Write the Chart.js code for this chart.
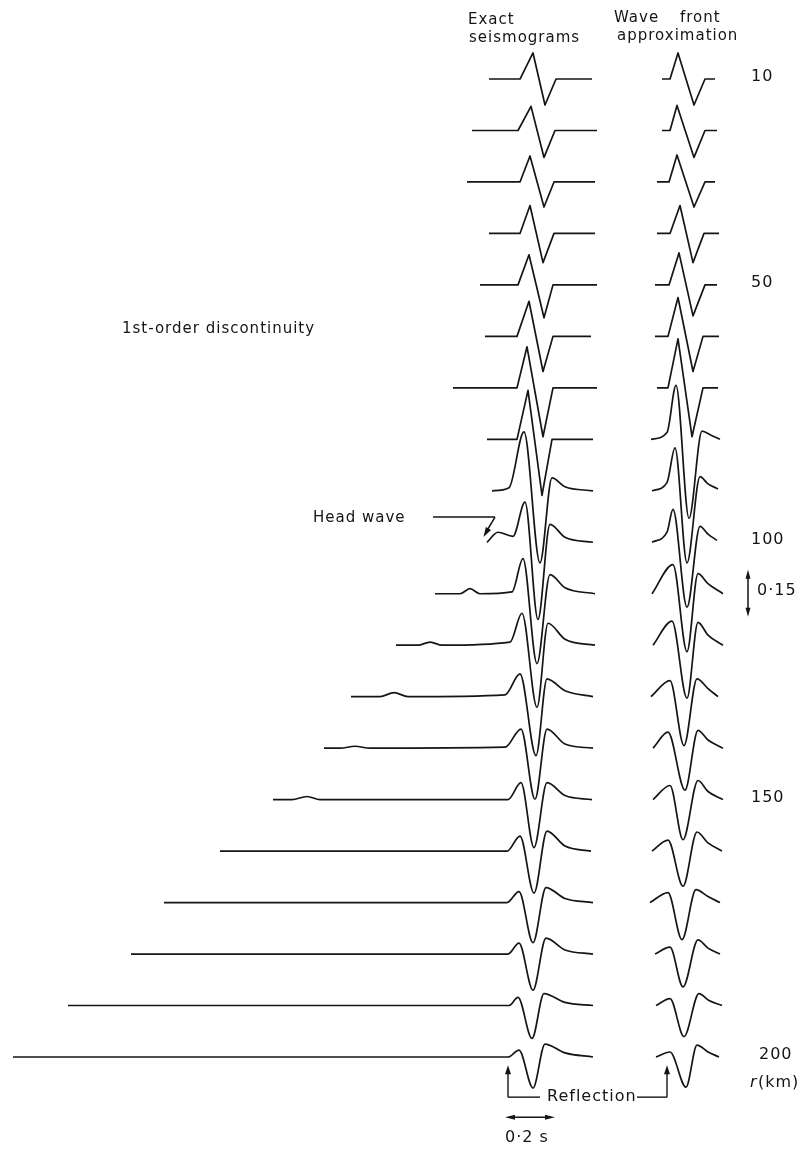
<!DOCTYPE html>
<html>
<head>
<meta charset="utf-8">
<title>Exact seismograms and wave front approximation</title>
<script src="https://cdn.jsdelivr.net/npm/chart.js@4.4.1/dist/chart.umd.min.js"></script>
<style>
  html, body { margin: 0; padding: 0; background: #fff; }
  #wrap { position: relative; width: 802px; height: 1149px; }
</style>
</head>
<body>
<div id="wrap"><canvas id="sections" width="802" height="1149"></canvas></div>
<script>
// one trace per epicentral distance (km)
const distances = [10, 20, 30, 40, 50, 60, 70, 80, 90, 100, 110, 120, 130, 140, 150, 160, 170, 180, 190, 200];
const distanceTicks = [10, 50, 100, 150, 200];

// exact seismograms - time in s (t = 0 at the reflection onset), amplitude in the units of the 0.15 bar
const exStartT  = [-0.076, -0.144, -0.164, -0.076, -0.112, -0.092, -0.220, -0.084, -0.064, -0.084, -0.292, -0.448, -0.628, -0.736, -0.940, -1.152, -1.376, -1.508, -1.760, -1.980];
const exOnsetT  = [0.048, 0.040, 0.048, 0.048, 0.040, 0.036, 0.036, 0.036, 0.004, 0.020, 0.016, 0.008, -0.012, -0.012, 0.000, -0.004, -0.004, 0.000, 0.004, 0.000];
const exOnsetA  = [0, 0, 0, 0, 0, 0, 0, 0, 0.010, 0.019, 0.006, 0.010, 0.006, 0.003, 0, 0, 0, 0, 0, 0];
const exPeakT   = [0.100, 0.092, 0.088, 0.088, 0.084, 0.084, 0.076, 0.080, 0.064, 0.068, 0.060, 0.056, 0.048, 0.052, 0.052, 0.048, 0.044, 0.044, 0.040, 0.044];
const exPeakA   = [0.083, 0.077, 0.083, 0.089, 0.096, 0.112, 0.131, 0.156, 0.188, 0.128, 0.112, 0.102, 0.073, 0.061, 0.054, 0.048, 0.035, 0.035, 0.026, 0.022];
const exTroughT = [0.148, 0.144, 0.144, 0.140, 0.144, 0.140, 0.140, 0.136, 0.128, 0.120, 0.116, 0.116, 0.112, 0.108, 0.104, 0.104, 0.100, 0.100, 0.096, 0.100];
const exTroughA = [-0.083, -0.086, -0.080, -0.093, -0.105, -0.112, -0.156, -0.179, -0.230, -0.246, -0.223, -0.198, -0.188, -0.163, -0.153, -0.134, -0.128, -0.115, -0.105, -0.099];
const exBumpT   = [0.192, 0.188, 0.184, 0.184, 0.180, 0.180, 0.180, 0.176, 0.176, 0.168, 0.168, 0.160, 0.156, 0.156, 0.156, 0.156, 0.152, 0.152, 0.144, 0.148];
const exBumpA   = [0, 0, 0, 0, 0, 0, 0, 0, 0.041, 0.057, 0.061, 0.070, 0.057, 0.061, 0.054, 0.064, 0.048, 0.051, 0.038, 0.041];
const exTailT   = [null, null, null, null, null, null, null, null, 0.228, 0.228, 0.228, 0.228, 0.228, 0.228, 0.228, 0.228, 0.228, 0.228, 0.228, 0.228];
const exTailA   = [null, null, null, null, null, null, null, null, 0.013, 0.016, 0.019, 0.019, 0.019, 0.013, 0.013, 0.016, 0.013, 0.013, 0.010, 0.013];
const exEndT    = [0.336, 0.356, 0.348, 0.348, 0.356, 0.332, 0.356, 0.340, 0.340, 0.340, 0.348, 0.348, 0.340, 0.340, 0.336, 0.332, 0.340, 0.340, 0.340, 0.340];

// head wave arrivals ahead of the reflection (100-150 km)
const exHeadFromT = [null, null, null, null, null, null, null, null, null, null, -0.192, -0.360, -0.512, -0.672, -0.864, null, null, null, null, null];
const exHeadT     = [null, null, null, null, null, null, null, null, null, -0.040, -0.152, -0.312, -0.456, -0.612, -0.804, null, null, null, null, null];
const exHeadA     = [null, null, null, null, null, null, null, null, null, 0.032, 0.016, 0.010, 0.013, 0.006, 0.010, null, null, null, null, null];
const exHeadToT   = [null, null, null, null, null, null, null, null, null, null, -0.112, -0.264, -0.400, -0.552, -0.752, null, null, null, null, null];

// wave front approximation, same units
const wfStartT  = [-0.020, -0.020, -0.040, -0.040, -0.048, -0.048, -0.040, -0.064, -0.060, -0.060, -0.060, -0.056, -0.064, -0.056, -0.056, -0.060, -0.068, -0.048, -0.044, -0.044];
const wfKneeT   = [0.012, 0.012, 0.008, 0.012, 0.008, 0.004, 0.004, 0.000, 0.000, 0.000, null, null, null, null, null, null, null, null, null, null];
const wfKneeA   = [0, 0, 0, 0, 0, 0, 0, 0.022, 0.026, 0.032, null, null, null, null, null, null, null, null, null, null];
const wfPeakT   = [0.044, 0.040, 0.040, 0.052, 0.048, 0.044, 0.044, 0.036, 0.032, 0.024, 0.024, 0.020, 0.012, 0.004, 0.012, 0.004, 0.004, 0.012, 0.012, 0.012];
const wfPeakA   = [0.083, 0.080, 0.086, 0.089, 0.102, 0.124, 0.156, 0.172, 0.137, 0.105, 0.093, 0.077, 0.051, 0.051, 0.045, 0.035, 0.032, 0.022, 0.022, 0.016];
const wfTroughT = [0.108, 0.108, 0.108, 0.104, 0.104, 0.104, 0.100, 0.088, 0.080, 0.080, 0.080, 0.080, 0.068, 0.072, 0.064, 0.064, 0.060, 0.064, 0.068, 0.076];
const wfTroughA = [-0.083, -0.086, -0.080, -0.093, -0.099, -0.112, -0.156, -0.252, -0.230, -0.207, -0.185, -0.169, -0.156, -0.134, -0.128, -0.112, -0.118, -0.105, -0.099, -0.096];
const wfBumpT   = [0.152, 0.152, 0.152, 0.148, 0.152, 0.144, 0.144, 0.140, 0.132, 0.132, 0.124, 0.124, 0.120, 0.124, 0.124, 0.120, 0.116, 0.124, 0.128, 0.120];
const wfBumpA   = [0, 0, 0, 0, 0, 0, 0, 0.026, 0.045, 0.051, 0.064, 0.073, 0.057, 0.057, 0.061, 0.061, 0.041, 0.045, 0.038, 0.038];
const wfTailT   = [null, null, null, null, null, null, null, 0.176, 0.164, 0.164, 0.164, 0.164, 0.164, 0.164, 0.164, 0.164, 0.164, 0.164, 0.168, 0.164];
const wfTailA   = [null, null, null, null, null, null, null, 0.013, 0.022, 0.026, 0.032, 0.032, 0.026, 0.026, 0.026, 0.026, 0.019, 0.019, 0.016, 0.016];
const wfEndT    = [0.192, 0.200, 0.192, 0.208, 0.200, 0.208, 0.204, 0.212, 0.204, 0.200, 0.224, 0.224, 0.204, 0.224, 0.224, 0.220, 0.212, 0.212, 0.220, 0.208];
const wfEndA    = [0, 0, 0, 0, 0, 0, 0, 0, 0.006, 0.006, 0, 0, 0, 0, 0, 0, 0, 0, 0, 0];

// scale bars
const timeBar = 0.2;   // s
const ampBar = 0.15;

const INK = '#151515';
const AMP_KM = 60.9;   // km of trace offset per amplitude unit

function pt(t, a, r) {
    return { x: t, y: r - a * AMP_KM };
}

function exactTrace(i) {
    const r = distances[i];
    const pts = [pt(exStartT[i], 0, r)];
    if (exHeadFromT[i] !== null) pts.push(pt(exHeadFromT[i], 0, r));
    if (exHeadT[i] !== null) pts.push(pt(exHeadT[i], exHeadA[i], r));
    if (exHeadToT[i] !== null) pts.push(pt(exHeadToT[i], 0, r));
    pts.push(pt(exOnsetT[i], exOnsetA[i], r));
    pts.push(pt(exPeakT[i], exPeakA[i], r));
    pts.push(pt(exTroughT[i], exTroughA[i], r));
    pts.push(pt(exBumpT[i], exBumpA[i], r));
    if (exTailT[i] !== null) pts.push(pt(exTailT[i], exTailA[i], r));
    pts.push(pt(exEndT[i], 0, r));
    return pts;
}

function frontTrace(i) {
    const r = distances[i];
    const pts = [pt(wfStartT[i], 0, r)];
    if (wfKneeT[i] !== null) pts.push(pt(wfKneeT[i], wfKneeA[i], r));
    pts.push(pt(wfPeakT[i], wfPeakA[i], r));
    pts.push(pt(wfTroughT[i], wfTroughA[i], r));
    pts.push(pt(wfBumpT[i], wfBumpA[i], r));
    if (wfTailT[i] !== null) pts.push(pt(wfTailT[i], wfTailA[i], r));
    pts.push(pt(wfEndT[i], wfEndA[i], r));
    return pts;
}

// short pulses without a rebound are drawn with straight strokes, the rest smoothed
function traceStyle(smooth) {
    return {
        borderColor: INK,
        borderWidth: 1.7,
        pointRadius: 0,
        fill: false,
        borderJoinStyle: 'round',
        tension: 0,
        cubicInterpolationMode: smooth ? 'monotone' : 'default'
    };
}

const datasets = [];
distances.forEach((r, i) => {
    datasets.push(Object.assign({ label: 'exact ' + r, data: exactTrace(i), xAxisID: 'x' }, traceStyle(exBumpA[i] > 0)));
    datasets.push(Object.assign({ label: 'front ' + r, data: frontTrace(i), xAxisID: 'xw' }, traceStyle(wfBumpA[i] > 0)));
});

/*=========================================
ARROWS AND LETTERING
=========================================*/
function arrowHead(ctx, x, y, ang, len, half) {
    ctx.beginPath();
    ctx.moveTo(x, y);
    ctx.lineTo(x - len * Math.cos(ang) + half * Math.sin(ang), y - len * Math.sin(ang) - half * Math.cos(ang));
    ctx.lineTo(x - len * Math.cos(ang) - half * Math.sin(ang), y - len * Math.sin(ang) + half * Math.cos(ang));
    ctx.closePath();
    ctx.fill();
}

function line(ctx, x1, y1, x2, y2) {
    ctx.beginPath();
    ctx.moveTo(x1, y1);
    ctx.lineTo(x2, y2);
    ctx.stroke();
}

const notes = {
    id: 'notes',
    afterDatasetsDraw(chart) {
        const { ctx, scales } = chart;
        const X = v => scales.x.getPixelForValue(v);
        const W = v => scales.xw.getPixelForValue(v);
        const Y = v => scales.y.getPixelForValue(v);

        ctx.save();
        ctx.fillStyle = INK;
        ctx.strokeStyle = INK;
        ctx.lineWidth = 1.5;
        ctx.textBaseline = 'middle';
        ctx.textAlign = 'left';
        ctx.font = '15px "DejaVu Sans"';
        ctx.letterSpacing = '1px';

        // column headings
        ctx.fillText('Exact', 468, 20);
        ctx.fillText('seismograms', 469, 38);
        ctx.fillText('Wave', 614, 18);
        ctx.fillText('front', 680, 18);
        ctx.fillText('approximation', 617, 36);

        ctx.fillText('1st-order discontinuity', 122, 329);
        ctx.fillText('Head wave', 313, 518);

        // head wave pointer
        const hy = Y(95.1);
        line(ctx, X(-0.300), hy, X(-0.052), hy);
        line(ctx, X(-0.052), hy, X(-0.090), Y(98.2));
        arrowHead(ctx, X(-0.098), Y(99.0), Math.atan2(Y(99.0) - hy, X(-0.098) - X(-0.052)), 10, 3);

        // distance labels
        ctx.font = '16px "DejaVu Sans"';
        distanceTicks.forEach(r => {
            ctx.fillText(String(r), r === 200 ? 759 : 751, Y(r) - 2);
        });
        ctx.font = 'italic 16px "DejaVu Sans"';
        ctx.fillText('r', 750, 1083);
        ctx.font = '16px "DejaVu Sans"';
        ctx.fillText('(km)', 758, 1083);

        // amplitude bar
        const ax = W(0.324);
        const ac = Y(109.9);
        const ah = ampBar / 2 * AMP_KM;
        const aTop = Y(109.9 - ah), aBot = Y(109.9 + ah);
        line(ctx, ax, aTop + 6, ax, aBot - 6);
        arrowHead(ctx, ax, aTop, -Math.PI / 2, 9, 2.5);
        arrowHead(ctx, ax, aBot, Math.PI / 2, 9, 2.5);
        ctx.fillText('0\u00b715', 757, ac - 2);

        // reflection markers
        const tipY = Y(201.6);
        const brY = Y(207.8);
        ctx.lineWidth = 1.4;
        line(ctx, X(0), tipY + 6, X(0), brY);
        line(ctx, X(0), brY, X(0.128), brY);
        arrowHead(ctx, X(0), tipY, -Math.PI / 2, 9, 3);
        line(ctx, W(0), tipY + 6, W(0), brY);
        line(ctx, W(-0.120), brY, W(0), brY);
        arrowHead(ctx, W(0), tipY, -Math.PI / 2, 9, 3);
        ctx.fillText('Reflection', 547, brY);

        // time bar
        const ty = Y(211.7);
        const t0 = X(-0.012), t1 = X(-0.012 + timeBar);
        line(ctx, t0 + 8, ty, t1 - 8, ty);
        arrowHead(ctx, t0, ty, Math.PI, 10, 2.5);
        arrowHead(ctx, t1, ty, 0, 10, 2.5);
        ctx.fillText('0\u00b72 s', 505, 1138);

        ctx.restore();
    }
};

new Chart(document.getElementById('sections'), {
    type: 'line',
    data: { datasets: datasets },
    options: {
        responsive: false,
        animation: false,
        events: [],
        layout: { padding: 0 },
        plugins: {
            legend: { display: false },
            tooltip: { enabled: false }
        },
        scales: {
            x: { type: 'linear', axis: 'x', position: 'bottom', min: -2.032, max: 1.176, display: false },
            xw: { type: 'linear', axis: 'x', position: 'bottom', min: -2.668, max: 0.54, display: false },
            y: { type: 'linear', reverse: true, min: -5.349, max: 217.875, display: false }
        }
    },
    plugins: [notes]
});
</script>
</body>
</html>
